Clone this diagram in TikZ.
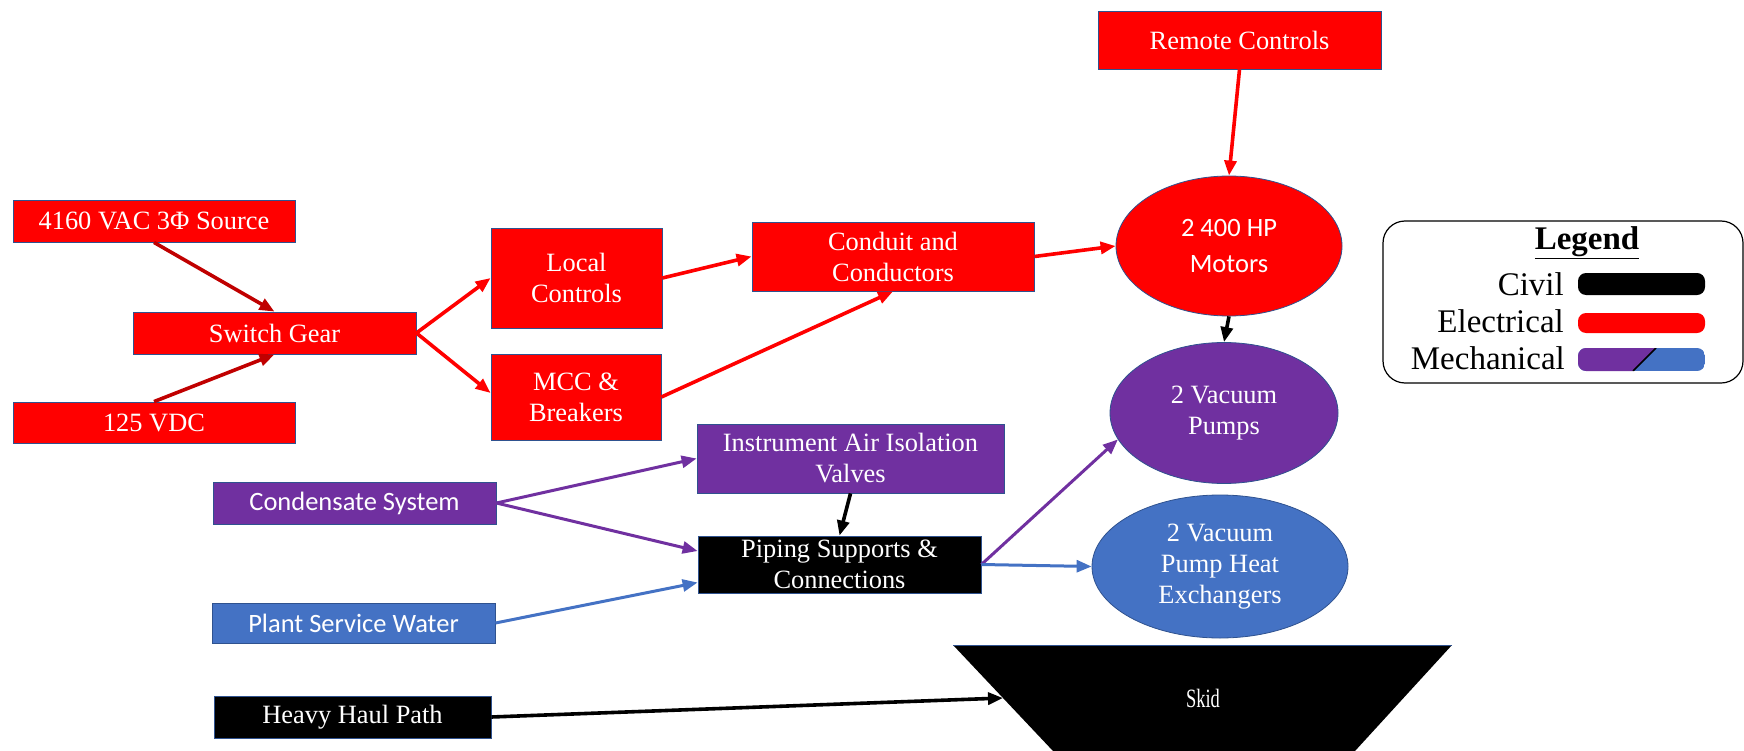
\documentclass[tikz,border=0pt]{standalone}
\usepackage{fontspec}
\usepackage{graphicx}
\setmainfont{Liberation Serif}
\newfontfamily\calibri{Carlito}
\usetikzlibrary{arrows.meta,shapes.geometric}

\newcommand{\boxfont}{\fontsize{26.4}{31}\selectfont}
\newcommand{\sansfont}{\calibri\fontsize{26.5}{36}\selectfont}
\newcommand{\keyfont}{\fontsize{33}{36}\selectfont}

\begin{document}
\begin{tikzpicture}[x=1pt,y=-1pt,>={Triangle[length=15pt,width=12pt]},
	box/.style={draw=boxline,line width=0.8pt,text=white,align=center,
		inner sep=0pt,font=\boxfont},
	oval/.style={box,ellipse},
	link/.style={line width=3.6pt,->}]

\definecolor{elec}{HTML}{FF0000}
\definecolor{darkelec}{HTML}{C00000}
\definecolor{mech}{HTML}{7030A0}
\definecolor{water}{HTML}{4472C4}
\definecolor{boxline}{HTML}{2F528F}

\useasboundingbox (0,0) rectangle (1744,751);

\node[box,fill=elec,minimum width=282pt,minimum height=42pt] (src) at (154,221) {4160 VAC 3Φ Source};
\node[box,fill=elec,minimum width=282pt,minimum height=41pt] (dc) at (154,422.5) {125 VDC};
\node[box,fill=elec,minimum width=283pt,minimum height=42pt] (switch) at (274.5,333) {Switch Gear};
\node[box,fill=elec,minimum width=171pt,minimum height=100pt] (local) at (576.5,278) {Local\\Controls};
\node[box,fill=elec,minimum width=170pt,minimum height=86pt] (mcc) at (576,397) {MCC \&\\Breakers};
\node[box,fill=elec,minimum width=282pt,minimum height=69pt] (conduit) at (893,256.5) {Conduit and\\Conductors};
\node[box,fill=elec,minimum width=283pt,minimum height=58pt] (remote) at (1239.5,40) {Remote Controls};

\node[oval,fill=elec,minimum width=226pt,minimum height=140pt,font=\sansfont] (motors) at (1229,246) {2 400 HP\\Motors};
\node[oval,fill=mech,minimum width=228pt,minimum height=141pt] (pumps) at (1224,413) {2 Vacuum\\Pumps};
\node[oval,fill=water,minimum width=256pt,minimum height=143pt] (hx) at (1220,566.5) {2 Vacuum\\Pump Heat\\Exchangers};

\node[box,fill=mech,minimum width=283pt,minimum height=42pt,font=\sansfont] (cond) at (354.5,503) {Condensate System};
\node[box,fill=water,minimum width=283pt,minimum height=40pt,font=\sansfont] (plant) at (353.5,623) {Plant Service Water};
\node[box,fill=black,minimum width=277pt,minimum height=42pt] (heavy) at (352.5,717) {Heavy Haul Path};
\node[box,fill=mech,minimum width=307pt,minimum height=69pt] (air) at (850.5,458.5) {Instrument Air Isolation\\Valves};
\node[box,fill=black,minimum width=283pt,minimum height=57pt] (piping) at (839.5,564.5) {Piping Supports \&\\Connections};

\fill (953,645) -- (1452,645) -- (1355,751) -- (1053,751) -- cycle;
\draw[boxline,line width=0.8pt] (953,645) -- (1452,645);
\node[text=white,font=\boxfont] (skid) at (1203,698) {\scalebox{0.7}[1]{Skid}};
\coordinate (skidedge) at (1003,698);

\draw[link,darkelec] (src.south) -- (switch.north);
\draw[link,darkelec] (dc.north) -- (switch.south);
\draw[link,elec] (switch.east) -- (local.west);
\draw[link,elec] (switch.east) -- ([yshift=4pt]mcc.west);
\draw[link,elec] (local.east) -- (conduit.west);
\draw[link,elec] (mcc.east) -- (conduit.south);
\draw[link,elec] (conduit.east) -- (motors.west);
\draw[link,elec] (remote.south) -- (motors.north);
\draw[link,black] (motors.south) -- (pumps.north);

\draw[link,mech,line width=3pt] (cond.east) -- (air.west);
\draw[link,mech,line width=3pt] (cond.east) -- ([yshift=13.5pt]piping.west);
\draw[link,water,line width=3pt] (plant.east) -- ([yshift=-18pt]piping.west);
\draw[link,black] (air.south) -- (piping.north);
\draw[link,mech,line width=3pt] (piping.east) -- (pumps.194);
\draw[link,water,line width=3pt] (piping.east) -- (hx.west);
\draw[link,black] (heavy.east) -- (skidedge);

\node[draw,line width=1.2pt,rounded corners=22pt,minimum width=360pt,minimum height=162pt] (legend) at (1563,302) {};
\node[font=\keyfont\bfseries,anchor=base,inner sep=0pt] (title) at (1587,250) {\underline{Legend}};
\node[font=\keyfont,anchor=base east,inner sep=0pt] (civil) at (1564,295) {Civil};
\node[font=\keyfont,anchor=base east,inner sep=0pt] (electrical) at (1564,332) {Electrical};
\node[font=\keyfont,anchor=base east,inner sep=0pt] (mechanical) at (1565,369) {Mechanical};

\fill[rounded corners=8pt] (1578,273) rectangle (1705,295);
\fill[elec,rounded corners=8pt] (1578,313) rectangle (1705,333);
\begin{scope}
\clip[rounded corners=8pt] (1578,348) rectangle (1705,371);
\fill[water] (1578,348) rectangle (1705,371);
\fill[mech] (1578,348) -- (1656,348) -- (1633,371) -- (1578,371) -- cycle;
\draw[line width=1.5pt] (1633,371) -- (1656,348);
\end{scope}

\end{tikzpicture}
\end{document}
